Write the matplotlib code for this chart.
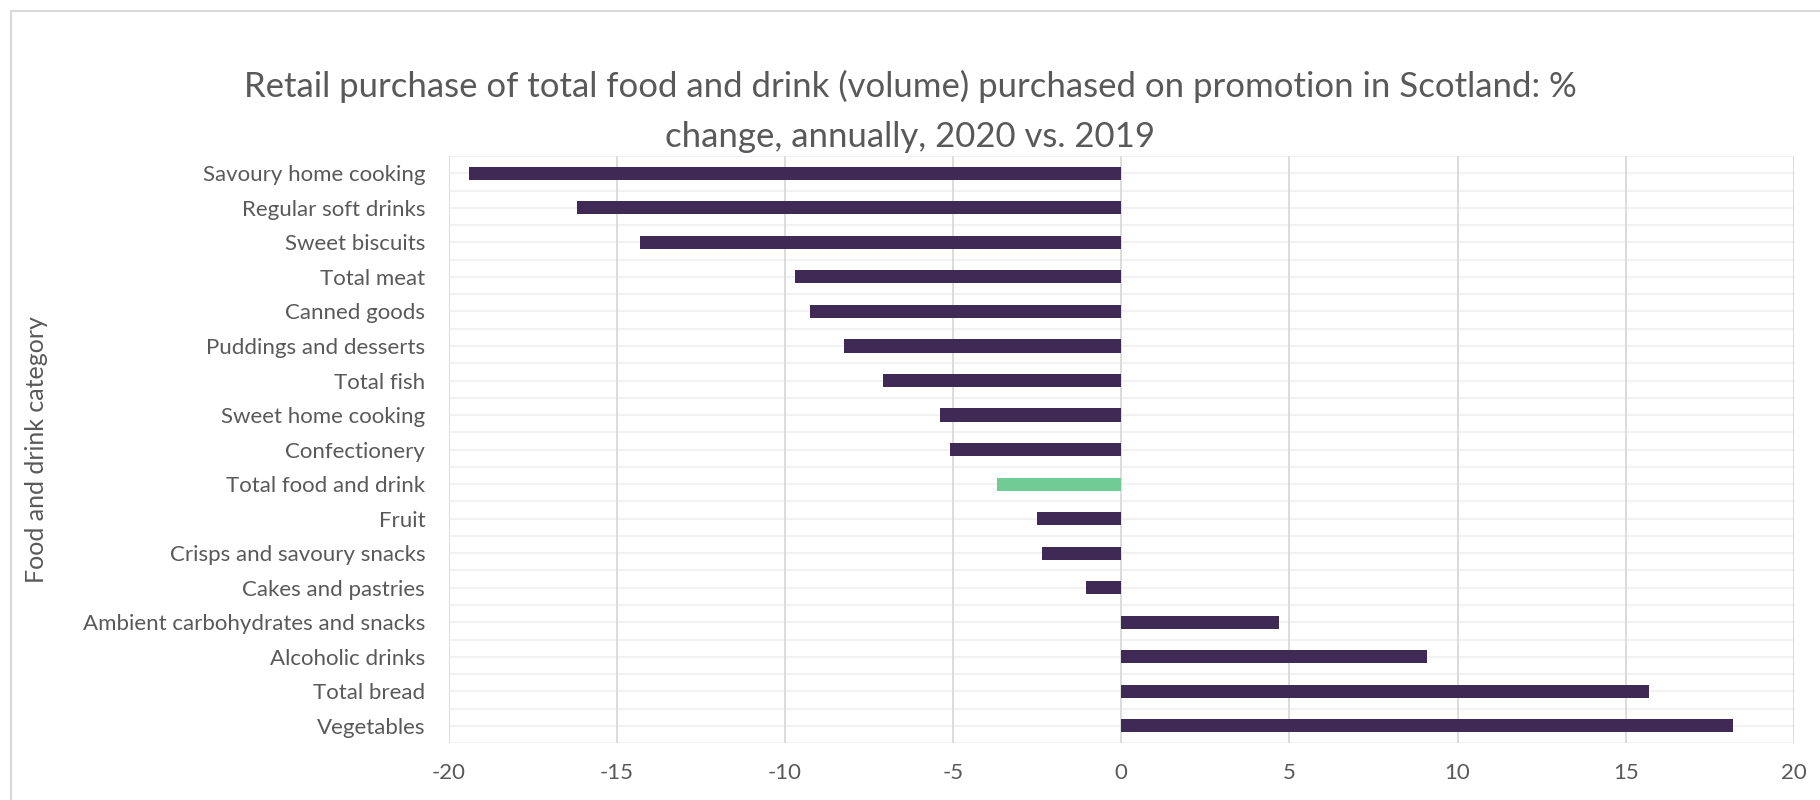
import matplotlib.pyplot as plt
from matplotlib.patches import Rectangle

categories = [
    "Savoury home cooking",
    "Regular soft drinks",
    "Sweet biscuits",
    "Total meat",
    "Canned goods",
    "Puddings and desserts",
    "Total fish",
    "Sweet home cooking",
    "Confectionery",
    "Total food and drink",
    "Fruit",
    "Crisps and savoury snacks",
    "Cakes and pastries",
    "Ambient carbohydrates and snacks",
    "Alcoholic drinks",
    "Total bread",
    "Vegetables",
]
pct_change = [-19.4, -16.2, -14.3, -9.7, -9.25, -8.25, -7.1, -5.4, -5.1,
              -3.7, -2.5, -2.35, -1.05, 4.7, 9.1, 15.7, 18.2]
x_ticks = [-20, -15, -10, -5, 0, 5, 10, 15, 20]

purple = "#3F2A56"
green = "#70CB95"
txt = "#595959"

plt.rcParams["font.family"] = ["Lato", "DejaVu Sans"]

fig = plt.figure(figsize=(18.2, 8), dpi=100)
ax = fig.add_axes([0.2466, 0.071, 0.739, 0.734])

colors = [green if c == "Total food and drink" else purple for c in categories]
ypos = list(range(len(categories)))
ax.barh(ypos, pct_change, height=0.38, color=colors, zorder=3)

ax.set_ylim(len(categories) - 0.5, -0.5)
ax.set_xlim(-20, 20)
ax.set_xticks(x_ticks)
ax.set_xticklabels([str(t) for t in x_ticks])
ax.set_yticks(ypos)
ax.set_yticklabels(categories)

# half-category horizontal gridlines, like the original
for i in range(len(categories) * 2 + 1):
    ax.axhline(-0.5 + i * 0.5, color="#F2F2F2", lw=1.5, zorder=1)
for t in x_ticks:
    ax.axvline(t, color="#D9D9D9", lw=1.3, zorder=2)

for s in ax.spines.values():
    s.set_visible(False)
ax.tick_params(axis="both", length=0, colors=txt, labelsize=16)
ax.tick_params(axis="y", pad=17)
ax.tick_params(axis="x", pad=14)

ax.set_ylabel("Food and drink category", fontsize=18, color=txt)
ax.yaxis.set_label_coords(-0.298, 0.5, transform=ax.transAxes)

fig.text(0.5, 0.861,
         "Retail purchase of total food and drink (volume) purchased on promotion in Scotland: %\n"
         "change, annually, 2020 vs. 2019",
         ha="center", va="center", fontsize=25, color=txt, linespacing=1.7)

fig.patches.append(Rectangle((0.006, -0.1), 1.1, 1.086, transform=fig.transFigure,
                             fill=False, edgecolor="#D9D9D9", lw=1.5))

fig.savefig("out.png", dpi=100)
